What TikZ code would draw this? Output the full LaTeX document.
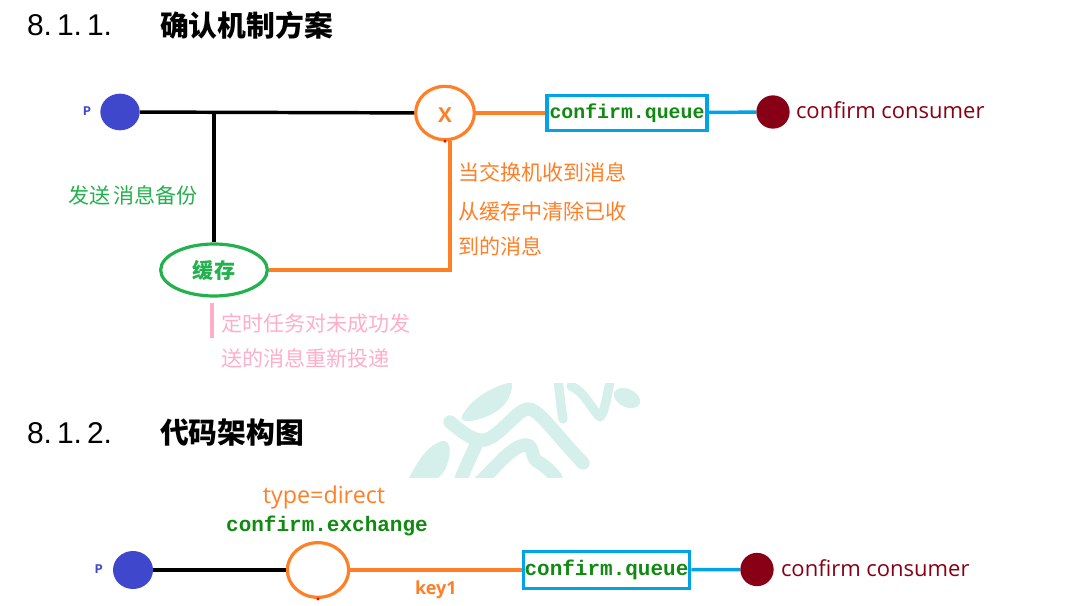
\documentclass[tikz,border=0pt]{standalone}
\usepackage{fontspec}
\setmainfont{Liberation Sans}
\newfontfamily\cjk{Noto Sans CJK SC}
\newfontfamily\lat{Open Sans}
\newfontfamily\mono{Liberation Mono}
\usetikzlibrary{shapes.geometric}
\definecolor{pblue}{HTML}{3F48CC}
\definecolor{orng}{HTML}{FF7F27}
\definecolor{cyanb}{HTML}{00A2E8}
\definecolor{dgreen}{HTML}{108A10}
\definecolor{lgreen}{HTML}{22B14C}
\definecolor{dred}{HTML}{880015}
\definecolor{pink}{HTML}{FFAEC9}
\definecolor{wm}{HTML}{D5F0EA}
\tikzset{
  txt/.style={inner sep=0pt, outer sep=0pt},
  pdot/.style={ellipse, fill=pblue, minimum width=29.5pt, minimum height=27.5pt, inner sep=0pt},
  cdot/.style={circle, fill=dred, minimum size=25pt, inner sep=0pt},
  exch/.style={ellipse, draw=orng, line width=2.4pt, minimum width=44pt, minimum height=40pt, inner sep=0pt},
  qbox/.style={draw=cyanb, line width=2.4pt, inner sep=0pt, text=dgreen, font=\mono\bfseries},
  blk/.style={line width=2.6pt, black},
  org/.style={line width=2.6pt, orng},
  cyl/.style={line width=2.6pt, cyanb},
  plabel/.style={txt, text=pblue, font=\mono\bfseries\fontsize{10}{12}\selectfont},
  head/.style={txt, font=\fontsize{22.5}{26}\selectfont},
  headcn/.style={txt, font=\cjk\bfseries\fontsize{21.6}{26}\selectfont},
  cntext/.style={txt, font=\cjk\fontsize{15.8}{19}\selectfont},
  constxt/.style={txt, text=dred, font=\lat\fontsize{16.5}{19}\selectfont},
  reddot/.style={circle, fill=red, minimum size=2.5pt, inner sep=0pt},
}
\begin{document}
\begin{tikzpicture}[x=0.75pt, y=-0.75pt]
\useasboundingbox (0,0) rectangle (1068,606);

% watermark
\begin{scope}
\clip (406,383) rectangle (652,477);
\fill[wm] (462,416) .. controls (470,400) and (490,387) .. (512,382) .. controls (513,400) and (500,415) .. (472,421) .. controls (465,422) and (460,420) .. cycle;
\fill[wm] (408,480) .. controls (418,460) and (428,445) .. (442,441) .. controls (451,440) and (451,452) .. (448,462) .. controls (445,472) and (440,478) .. (434,480) -- cycle;
\draw[wm, line width=10pt, line cap=round, line join=round] (450,422) .. controls (462,432) and (474,442) .. (485,440) .. controls (500,436) and (515,412) .. (527,409) .. controls (537,407) and (550,428) .. (583,463);
\draw[wm, line width=10pt, line cap=round] (478,440) .. controls (472,455) and (466,465) .. (460,482);
\draw[wm, line width=10pt, line cap=round, line join=round] (480,482) .. controls (495,468) and (510,448) .. (524,445) .. controls (535,443) and (530,458) .. (538,462) .. controls (545,466) and (550,470) .. (556,478);
\draw[wm, line width=7pt, line cap=round] (558,380) .. controls (560,395) and (561,408) .. (563,419);
\draw[wm, line width=7pt, line cap=round, line join=round] (571,386) .. controls (585,392) and (592,410) .. (600,417) .. controls (605,412) and (607,395) .. (610,382);
\fill[wm, rotate around={-25:(627,398)}] (627,398) ellipse (14 and 9);
\end{scope}

% headings
\node[head, anchor=west] (h1n) at (27,25) {8.\,1.\,1.};
\node[headcn, anchor=west] (h1) at (160,25) {确认机制方案};
\node[head, anchor=west] (h2n) at (27,433) {8.\,1.\,2.};
\node[headcn, anchor=west] (h2) at (160,433) {代码架构图};

% ---------- diagram 1 ----------
\node[pdot] (p1) at (120,112) {};
\node[plabel] (p1l) at (87,111) {P};
\node[exch] (x1) at (445,113) {};
\node[txt, text=orng, font=\lat\bfseries\fontsize{15.5}{18}\selectfont] (x1l) at (445,115) {X};
\node[qbox, minimum width=120pt, minimum height=26pt] (q1) at (627,113) {\fontsize{14.9}{17}\selectfont confirm.queue};
\node[cdot] (d1) at (773,112) {};
\node[constxt, anchor=west] (d1l) at (796,110) {confirm consumer};
\node[ellipse, draw=lgreen, line width=2.4pt, minimum width=80pt, minimum height=39pt, inner sep=0pt,
      text=lgreen, font=\cjk\bfseries\fontsize{15.8}{19}\selectfont] (cache) at (214,270) {缓存};
\coordinate (j1) at (214,112);

\draw[blk] (p1) -- (x1);
\draw[blk] (j1) -- (cache.north);
\draw[org] (x1) -- (q1);
\draw[cyl] (q1) -- (d1);
\draw[org] (x1.-80) |- (cache.east);
\node[reddot] (rd1) at (x1.south) {};

\node[cntext, text=lgreen, anchor=west] (t1) at (68,195) {发送\,消息备份};
\node[cntext, text=orng, anchor=west] (t2) at (458,172) {当交换机收到消息};
\node[cntext, text=orng, anchor=west] (t3) at (458,211) {从缓存中清除已收};
\node[cntext, text=orng, anchor=west] (t4) at (458,246) {到的消息};
\coordinate (pk1) at (212,303);
\coordinate (pk2) at (212,338);
\draw[pink, line width=2.4pt] (pk1) -- (pk2);
\node[cntext, text=pink, anchor=west] (t5) at (221,323) {定时任务对未成功发};
\node[cntext, text=pink, anchor=west] (t6) at (221,358) {送的消息重新投递};

% ---------- diagram 2 ----------
\node[pdot, minimum width=30pt, minimum height=28.5pt] (p2) at (133,570) {};
\node[plabel] (p2l) at (99,569) {P};
\node[exch, minimum width=46pt, minimum height=41pt] (ex) at (318,570) {};
\node[txt, text=orng, font=\lat\fontsize{17.5}{20}\selectfont] (ty) at (324,497) {type=direct};
\node[txt, text=dgreen, font=\mono\bfseries\fontsize{15.75}{18}\selectfont] (exn) at (327,526) {confirm.exchange};
\node[qbox, minimum width=125pt, minimum height=28pt] (q2) at (606.5,570) {\fontsize{15.75}{18}\selectfont confirm.queue};
\node[cdot] (d2) at (757,569.5) {};
\node[constxt, anchor=west] (d2l) at (781,568) {confirm consumer};

\draw[blk] (p2) -- (ex);
\draw[org] (ex) -- (q2) node[pos=0.5, below=8pt, txt, text=orng, font=\lat\bfseries\fontsize{13.5}{16}\selectfont] (k1) {key1};
\draw[cyl] (q2) -- (d2);
\node[reddot] (rd2) at (ex.south) {};
\end{tikzpicture}
\end{document}
